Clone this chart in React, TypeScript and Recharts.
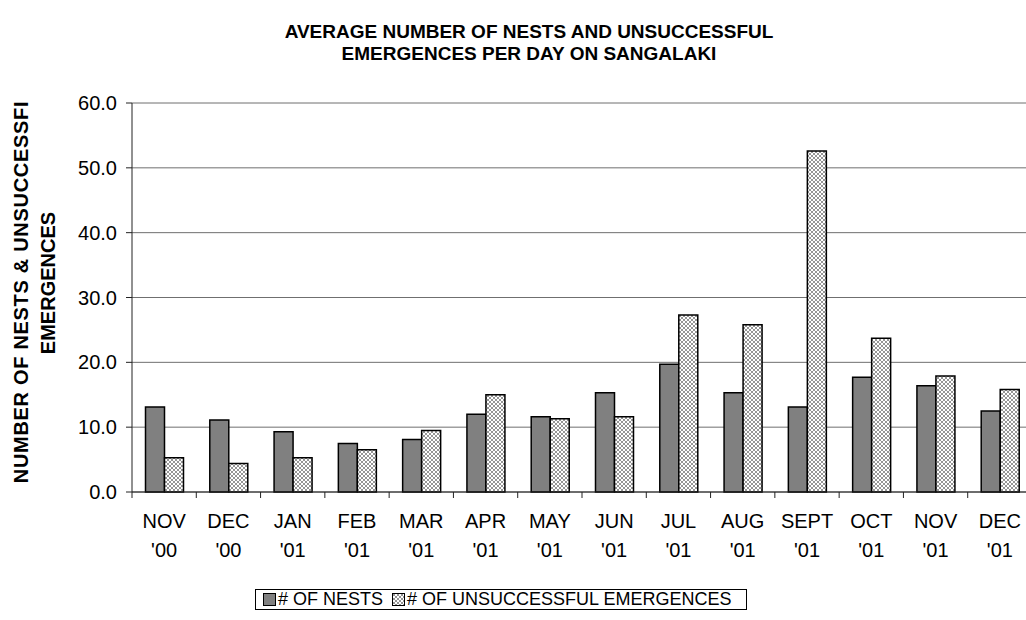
import React from "react";
import {
	BarChart,
	Bar,
	XAxis,
	YAxis,
	CartesianGrid,
	Legend,
	Customized
} from "recharts";

const months = ["NOV", "DEC", "JAN", "FEB", "MAR", "APR", "MAY", "JUN", "JUL", "AUG", "SEPT", "OCT", "NOV", "DEC"];
const years = ["'00", "'00", "'01", "'01", "'01", "'01", "'01", "'01", "'01", "'01", "'01", "'01", "'01", "'01"];
const nests = [13.1, 11.1, 9.3, 7.5, 8.1, 12.0, 11.6, 15.3, 19.7, 15.3, 13.1, 17.7, 16.4, 12.5];
const unsuccessful = [5.3, 4.4, 5.3, 6.5, 9.5, 15.0, 11.3, 11.6, 27.3, 25.8, 52.6, 23.7, 17.9, 15.8];
const yTicks = [0, 10, 20, 30, 40, 50, 60];

const data = months.map((m, i) => ({
	month: m,
	year: years[i],
	nests: nests[i],
	unsuccessful: unsuccessful[i]
}));

const FONT = '"Liberation Sans", Arial, sans-serif';
const CAT_HALF = 900 / months.length / 2;

function MonthTick(props: any) {
	const { x, y, index } = props;
	const d = data[index];
	return (
		<g>
			<line x1={x - CAT_HALF} y1={y} x2={x - CAT_HALF} y2={y + 6} stroke="#222" />
			{index === data.length - 1 && (
				<line x1={x + CAT_HALF} y1={y} x2={x + CAT_HALF} y2={y + 6} stroke="#222" />
			)}
			<text x={x} y={y + 36} textAnchor="middle" fontSize={20} fill="#000" fontFamily={FONT}>
				{d.month}
			</text>
			<text x={x} y={y + 65} textAnchor="middle" fontSize={20} fill="#000" fontFamily={FONT}>
				{d.year}
			</text>
		</g>
	);
}

function Titles() {
	return (
		<g fontFamily={FONT} fontWeight="bold" fill="#000">
			<text x={529} y={38} textAnchor="middle" fontSize={19}>
				AVERAGE NUMBER OF NESTS AND UNSUCCESSFUL
			</text>
			<text x={529} y={60} textAnchor="middle" fontSize={19}>
				EMERGENCES PER DAY ON SANGALAKI
			</text>
			<text
				x={28}
				y={292}
				textAnchor="middle"
				fontSize={20}
				letterSpacing={0.7}
				transform="rotate(-90 28 292)"
			>
				NUMBER OF NESTS &amp; UNSUCCESSFI
			</text>
			<text x={55} y={283} textAnchor="middle" fontSize={20} transform="rotate(-90 55 283)">
				EMERGENCES
			</text>
		</g>
	);
}

function LegendBox() {
	return (
		<div
			style={{
				marginLeft: 255,
				marginTop: 9,
				width: 492,
				height: 21,
				border: "1px solid #000",
				boxSizing: "border-box",
				display: "flex",
				alignItems: "center",
				fontFamily: FONT,
				fontSize: 18,
				color: "#000",
				whiteSpace: "nowrap"
			}}
		>
			<svg width={13} height={13} style={{ marginLeft: 7, marginRight: 2 }}>
				<rect x={0.5} y={0.5} width={12} height={12} fill="#808080" stroke="#000" />
			</svg>
			<span># OF NESTS</span>
			<svg width={13} height={13} style={{ marginLeft: 9, marginRight: 2 }}>
				<rect x={0.5} y={0.5} width={12} height={12} fill="url(#hatch)" stroke="#000" />
			</svg>
			<span># OF UNSUCCESSFUL EMERGENCES</span>
		</div>
	);
}

export default function App() {
	return (
		<div
			style={{
				position: "fixed",
				left: 0,
				top: 0,
				width: 1026,
				height: 620,
				overflow: "hidden",
				background: "#fff"
			}}
		>
			<svg width={0} height={0} style={{ position: "absolute" }}>
				<defs>
					<pattern id="hatch" width={4} height={4} patternUnits="userSpaceOnUse">
						<rect width={4} height={4} fill="#fff" />
						<path d="M0,0 L4,4 M4,0 L0,4" stroke="#8a8a8a" strokeWidth={0.9} />
					</pattern>
				</defs>
			</svg>
			<BarChart
				width={1040}
				height={620}
				data={data}
				margin={{ top: 103, right: 8, left: 0, bottom: 0 }}
				barCategoryGap="21%"
				barGap={0}
			>
				<CartesianGrid vertical={false} stroke="#6f6f6f" />
				<XAxis
					dataKey="month"
					height={88}
					tickSize={0}
					tickMargin={0}
					tickLine={false}
					interval={0}
					axisLine={{ stroke: "#222" }}
					tick={<MonthTick />}
				/>
				<YAxis
					width={132}
					domain={[0, 60]}
					ticks={yTicks}
					interval={0}
					tickFormatter={(v: number) => v.toFixed(1)}
					tickSize={6}
					tickMargin={9}
					axisLine={{ stroke: "#222" }}
					tickLine={{ stroke: "#222" }}
					tick={{ fontSize: 20, fill: "#000", fontFamily: FONT }}
				/>
				<Bar
					dataKey="nests"
					name="# OF NESTS"
					fill="#808080"
					stroke="#000"
					strokeWidth={1.5}
					isAnimationActive={false}
				/>
				<Bar
					dataKey="unsuccessful"
					name="# OF UNSUCCESSFUL EMERGENCES"
					fill="url(#hatch)"
					stroke="#000"
					strokeWidth={1.5}
					isAnimationActive={false}
				/>
				<Legend
					verticalAlign="bottom"
					height={40}
					wrapperStyle={{ left: 0, width: 1026 }}
					content={() => <LegendBox />}
				/>
				<Customized component={Titles} />
			</BarChart>
		</div>
	);
}
